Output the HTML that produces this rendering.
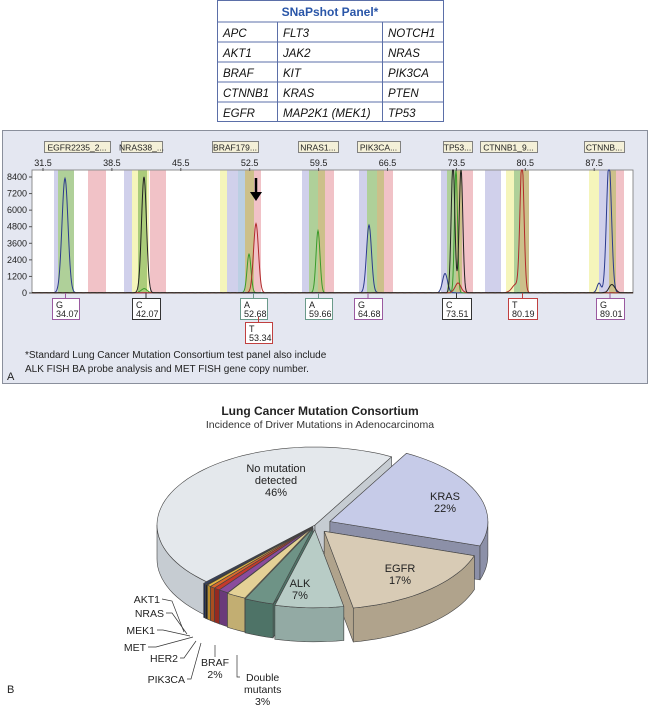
<!DOCTYPE html>
<html><head><meta charset="utf-8"><style>
html,body{margin:0;padding:0;background:#fff}
svg{display:block;font-family:"Liberation Sans",Arial,sans-serif}
</style></head><body>
<svg id="s" width="650" height="706" viewBox="0 0 650 706" xmlns="http://www.w3.org/2000/svg">
<rect x="217.5" y="0.5" width="226" height="121" fill="#fff" stroke="#5b6fa8"/>
<line x1="217" y1="22" x2="444" y2="22" stroke="#5b6fa8"/>
<line x1="217" y1="42" x2="444" y2="42" stroke="#5b6fa8"/>
<line x1="217" y1="62" x2="444" y2="62" stroke="#5b6fa8"/>
<line x1="217" y1="82" x2="444" y2="82" stroke="#5b6fa8"/>
<line x1="217" y1="102" x2="444" y2="102" stroke="#5b6fa8"/>
<line x1="277.5" y1="22" x2="277.5" y2="121" stroke="#5b6fa8"/>
<line x1="382.5" y1="22" x2="382.5" y2="121" stroke="#5b6fa8"/>
<text x="330" y="16" text-anchor="middle" font-size="12" font-weight="bold" fill="#2a56a8">SNaPshot Panel*</text>
<g font-size="11.5" font-style="italic" fill="#111">
<text x="223" y="37">APC</text><text x="283" y="37">FLT3</text><text x="388" y="37">NOTCH1</text>
<text x="223" y="57">AKT1</text><text x="283" y="57">JAK2</text><text x="388" y="57">NRAS</text>
<text x="223" y="77">BRAF</text><text x="283" y="77">KIT</text><text x="388" y="77">PIK3CA</text>
<text x="223" y="97">CTNNB1</text><text x="283" y="97">KRAS</text><text x="388" y="97">PTEN</text>
<text x="223" y="117">EGFR</text><text x="283" y="117">MAP2K1 (MEK1)</text><text x="388" y="117">TP53</text>
</g>
<rect x="2.5" y="130.5" width="645" height="253" fill="#e4e7f1" stroke="#8a8f9c"/>
<rect x="32" y="170" width="601" height="123" fill="#fff" stroke="#777" stroke-width="0.8"/>
<g id="bands"></g>
<g id="peaks" fill="none" stroke-width="1"></g>
<g id="axes" font-size="9" fill="#222"></g>
<g id="boxes" font-size="9" fill="#222"></g>
<text x="25" y="358" font-size="10" fill="#222">*Standard Lung Cancer Mutation Consortium test panel also include</text>
<text x="25" y="372" font-size="10" fill="#222">ALK FISH BA probe analysis and MET FISH gene copy number.</text>
<text x="7" y="380" font-size="11" fill="#222">A</text>
<line x1="256" y1="178" x2="256" y2="194" stroke="#000" stroke-width="2.5"/>
<polygon points="250,192 262,192 256,201" fill="#000"/>
<text x="320" y="415" text-anchor="middle" font-size="12" font-weight="bold" fill="#222">Lung Cancer Mutation Consortium</text>
<text x="320" y="428" text-anchor="middle" font-size="10.5" fill="#333">Incidence of Driver Mutations in Adenocarcinoma</text>
<g id="pie" stroke="#444" stroke-width="0.6" stroke-linejoin="round"></g>
<g font-size="11" fill="#222" text-anchor="middle">
<text x="276" y="472">No mutation</text><text x="276" y="484">detected</text><text x="276" y="496">46%</text>
<text x="445" y="500">KRAS</text><text x="445" y="512">22%</text>
<text x="400" y="572">EGFR</text><text x="400" y="584">17%</text>
<text x="300" y="587">ALK</text><text x="300" y="599">7%</text>
</g>
<g font-size="10.5" fill="#222">
<text x="160" y="603" text-anchor="end">AKT1</text>
<text x="164" y="617" text-anchor="end">NRAS</text>
<text x="155" y="634" text-anchor="end">MEK1</text>
<text x="146" y="651" text-anchor="end">MET</text>
<text x="178" y="662" text-anchor="end">HER2</text>
<text x="185" y="683" text-anchor="end">PIK3CA</text>
<text x="215" y="666" text-anchor="middle">BRAF</text><text x="215" y="678" text-anchor="middle">2%</text>
<text x="246" y="681">Double</text><text x="244" y="693">mutants</text><text x="255" y="705">3%</text>
</g>
<g stroke="#333" stroke-width="0.7" fill="none">
<polyline points="162,599 172,601 184,632"/>
<polyline points="166,613 172,613 187,634"/>
<polyline points="157,630 163,630 190,636"/>
<polyline points="148,647 156,647 193,637"/>
<polyline points="180,658 184,658 196,641"/>
<polyline points="187,679 191,679 201,643"/>
<polyline points="215,657 215,645"/>
<polyline points="240,677 237,677 237,655"/>
</g>
<text x="7" y="693" font-size="11" fill="#222">B</text>
</svg>
<script>
var NS="http://www.w3.org/2000/svg";
function el(p,t,a,txt){var e=document.createElementNS(NS,t);for(var k in a)e.setAttribute(k,a[k]);if(txt!=null)e.textContent=txt;p.appendChild(e);return e;}
var C={p:"rgba(150,150,210,0.45)",g:"rgba(110,170,70,0.55)",r:"rgba(225,120,130,0.45)",y:"rgba(235,235,120,0.5)",o:"rgba(170,150,60,0.6)",b:"rgba(120,160,200,0.5)"};
var bands=[[54,58,"p"],[58,74,"g"],[88,106,"r"],[124,132,"p"],[132,149,"y"],[138,147,"g"],[150,166,"r"],[220,227,"y"],[227,238,"p"],[238,245,"b"],[245,254,"o"],[254,261,"r"],[302,309,"p"],[309,318,"g"],[318,325,"o"],[325,334,"r"],[359,367,"p"],[367,377,"g"],[377,384,"o"],[384,393,"r"],[441,447,"p"],[447,456,"g"],[456,462,"o"],[462,473,"r"],[485,501,"p"],[506,514,"y"],[514,520,"g"],[520,529,"o"],[589,599,"y"],[599,609,"p"],[609,616,"o"],[616,624,"r"]];
var B=document.getElementById("bands");
bands.forEach(function(b){el(B,"rect",{x:b[0],y:170.5,width:b[1]-b[0],height:122,fill:C[b[2]]});});
var P=document.getElementById("peaks");
function yv(v){return 293-v/8400*116;}
var series={"#2b3a8c":[[65,8300,3],[369,4900,2.5],[445,1400,2.5],[599,700,2],[609,9500,2.5]],
"#3a9a2a":[[249,2800,2],[318,4500,2],[144,300,3],[456,9000,1.5]],
"#b02a2a":[[256,5000,2.5],[458,700,3],[522,9500,2],[516,600,4]],
"#222":[[144,8400,2.5],[453,9500,1.8],[461,9000,1.8],[612,600,3]]};
var ph=0;
for(var col in series){ph+=1.3;var d="";for(var x=32;x<=633;x+=0.5){var v=10*Math.sin(x*0.9+ph)+15;series[col].forEach(function(p){v+=p[1]*Math.exp(-Math.pow((x-p[0])/p[2],2)/2);});var y=Math.max(170,yv(v));d+=(d?"L":"M")+x+","+y.toFixed(1);}el(P,"path",{d:d,stroke:col});}
var A=document.getElementById("axes");
for(var i=0;i<=7;i++){var v=i*1200,y=yv(v);el(A,"text",{x:27,y:y+3,"text-anchor":"end"},String(v));el(A,"line",{x1:29,x2:32,y1:y,y2:y,stroke:"#555"});}
for(var i=0;i<9;i++){var x=43+i*68.9;el(A,"text",{x:x,y:166,"text-anchor":"middle"},(31.5+7*i).toFixed(1));el(A,"line",{x1:x,x2:x,y1:168,y2:171,stroke:"#555"});}
var BX=document.getElementById("boxes");
[[44,110,"EGFR2235_2..."],[121,162,"NRAS38_..."],[212,258,"BRAF179..."],[298,338,"NRAS1..."],[357,400,"PIK3CA..."],[443,472,"TP53..."],[480,537,"CTNNB1_9..."],[584,624,"CTNNB..."]].forEach(function(b){el(BX,"rect",{x:b[0]+.5,y:141.5,width:b[1]-b[0],height:11,fill:"#f4f0d8",stroke:"#555","stroke-width":0.7});el(BX,"text",{x:(b[0]+b[1])/2,y:150.5,"text-anchor":"middle","font-size":8.5},b[2]);});
[[52,79,298,"#9a5aa0","G","34.07"],[132,160,298,"#333","C","42.07"],[240,267,298,"#6a9a8a","A","52.68"],[245,272,322,"#c04040","T","53.34"],[305,332,298,"#6a9a8a","A","59.66"],[354,382,298,"#9a5aa0","G","64.68"],[442,471,298,"#333","C","73.51"],[508,537,298,"#c04040","T","80.19"],[596,624,298,"#9a5aa0","G","89.01"]].forEach(function(b){el(BX,"line",{x1:(b[0]+b[1])/2,x2:(b[0]+b[1])/2,y1:b[2]-5,y2:b[2],stroke:b[3]});el(BX,"rect",{x:b[0]+.5,y:b[2]+.5,width:b[1]-b[0],height:21,fill:"#fff",stroke:b[3]});el(BX,"text",{x:b[0]+4,y:b[2]+10},b[4]);el(BX,"text",{x:b[0]+4,y:b[2]+19},b[5]);});
var G=document.getElementById("pie"),cx=315,cy=525,rx=158,ry=78,D=34;
var sl=[["No",46,"#e4e8ec","#c6ccd2",0],["KRAS",22,"#c6cbe8","#8c90a8",16],["EGFR",17,"#d8cbb5","#b0a38c",14],["ALK",7,"#b8ccc6","#93aaa4",8],["DM",3,"#6e9386","#4e7367",6],["BRAF",2,"#e4d196","#c2ae72",5],["PIK",1,"#8a4c9c","#6a3a7a",4],["HER2",0.6,"#c43a2c","#952a20",4],["MET",0.5,"#d9682c","#a84e20",4],["MEK1",0.4,"#e8b840","#b88e2c",4],["NRAS",0.25,"#3a3a3a","#222",4],["AKT1",0.25,"#2c3e6e","#1c2a50",4]];
var arr=[];var start=-61;arr.push({s:sl[0],a1:start-165.6,a2:start});var cur=start;
for(var i=1;i<sl.length;i++){var w=sl[i][1]*3.6;arr.push({s:sl[i],a1:cur,a2:cur+w});cur+=w;}
function pt(t,ox,oy,dz){var r=t*Math.PI/180;return [cx+ox+rx*Math.cos(r),cy+oy+ry*Math.sin(r)+(dz||0)];}
function arc(a1,a2,ox,oy,dz,rev){var s="";var n=Math.max(2,Math.ceil(Math.abs(a2-a1)/3));for(var k=0;k<=n;k++){var t=rev?a2-(a2-a1)*k/n:a1+(a2-a1)*k/n;var p=pt(t,ox,oy,dz);s+="L"+p[0].toFixed(1)+","+p[1].toFixed(1);}return s;}
arr.forEach(function(o){var m=(o.a1+o.a2)/2*Math.PI/180;o.ox=o.s[4]*Math.cos(m);o.oy=o.s[4]*Math.sin(m)*0.6;o.key=Math.sin(m);});
arr.sort(function(p,q){return p.key-q.key;});
arr.forEach(function(o){var ox=o.ox,oy=o.oy,c=[cx+ox,cy+oy];
[o.a1,o.a2].forEach(function(t){var p=pt(t,ox,oy);el(G,"path",{d:"M"+c[0]+","+c[1]+"L"+p[0]+","+p[1]+"L"+p[0]+","+(p[1]+D)+"L"+c[0]+","+(c[1]+D)+"Z",fill:o.s[3]});});
for(var base=-360;base<=360;base+=360){var l=Math.max(o.a1,base),h=Math.min(o.a2,base+180);if(h>l){var d="M"+pt(l,ox,oy)[0]+","+pt(l,ox,oy)[1]+arc(l,h,ox,oy,0,false)+arc(l,h,ox,oy,D,true)+"Z";el(G,"path",{d:d,fill:o.s[3]});}}
el(G,"path",{d:"M"+c[0]+","+c[1]+arc(o.a1,o.a2,ox,oy,0,false)+"Z",fill:o.s[2]});
});
</script>
</body></html>
